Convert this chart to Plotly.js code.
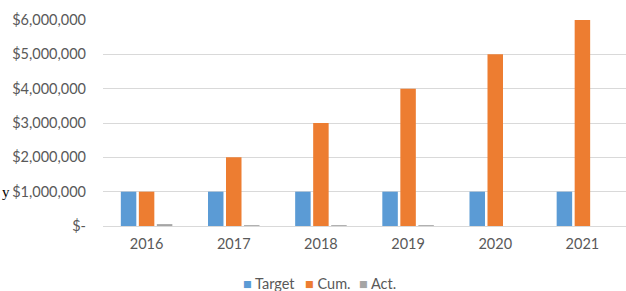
<!DOCTYPE html>
<html><head><meta charset="utf-8">
<script src="https://cdn.plot.ly/plotly-3.0.1.min.js"></script>
<style>html,body{margin:0;padding:0;background:#fff;}#chart{width:626px;height:291px;}</style>
</head><body><div id="chart"></div>
<script>
const years = ['2016','2017','2018','2019','2020','2021'];
const seriesNames = ['Target','Cum.','Act.'];
const target = [1000000,1000000,1000000,1000000,1000000,1000000];
const cum = [1000000,2000000,3000000,4000000,5000000,6000000];
const act = [55000,25000,25000,25000,0,0];
const yTickVals = [0,1000000,2000000,3000000,4000000,5000000,6000000];
const yTickText = ['$-','$1,000,000','$2,000,000','$3,000,000','$4,000,000','$5,000,000','$6,000,000'];
const colors = ['#5B9BD5','#ED7D31','#A5A5A5'];

const font = {family:'Lato, "Open Sans", sans-serif', size:14.5, color:'#595959'};
const data = [target, cum, act];
const traces = data.map((v,i)=>({type:'bar', name:seriesNames[i], x:years, y:v, marker:{color:colors[i]}, showlegend:false}));
const legX = [0.2635, 0.382, 0.485];
const legendAnn = seriesNames.map((n,i)=>({
  text:'<span style="color:'+colors[i]+'">■</span> '+n,
  xref:'paper', yref:'paper', x:legX[i], y:-0.277, xanchor:'left', yanchor:'middle', showarrow:false,
  font:{family:font.family, size:14.5, color:'#595959'}
}));
const layout = {
  width:626, height:291,
  margin:{l:103, r:0, t:20, b:65},
  paper_bgcolor:'#fff', plot_bgcolor:'#fff',
  font:font,
  barmode:'group', bargap:0.38, bargroupgap:0.14,
  xaxis:{type:'category', showgrid:false, showline:true, linecolor:'#d9d9d9', linewidth:1, ticks:'', tickfont:font, automargin:false, ticklabelstandoff:5},
  yaxis:{range:[0,6000000], tickvals:yTickVals, ticktext:yTickText, showgrid:true, gridcolor:'#d9d9d9', zeroline:false, showline:false, ticks:'', ticklen:0, tickfont:font, automargin:false, ticklabelstandoff:16},
  showlegend:false,
  annotations:[{text:'y', xref:'paper', yref:'paper', x:-0.197, y:1/6, xanchor:'left', yanchor:'middle', showarrow:false, font:{family:'Liberation Serif, serif', size:15, color:'#000'}}].concat(legendAnn)
};
Plotly.newPlot('chart', traces, layout, {displayModeBar:false, staticPlot:true});
</script></body></html>
